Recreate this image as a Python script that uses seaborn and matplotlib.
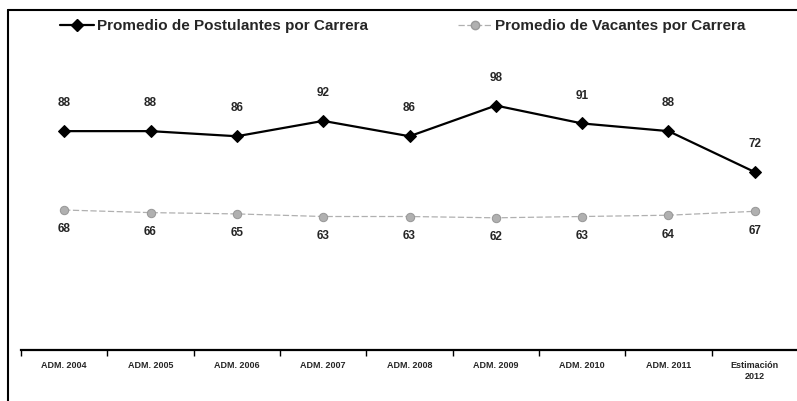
import matplotlib
matplotlib.use("Agg")
import matplotlib.pyplot as plt
import seaborn as sns
import pandas as pd
from matplotlib.lines import Line2D

sns.set_style("white")
plt.rcParams['font.family'] = ['Liberation Sans', 'DejaVu Sans']

# Data
categories = ["ADM. 2004", "ADM. 2005", "ADM. 2006", "ADM. 2007", "ADM. 2008",
              "ADM. 2009", "ADM. 2010", "ADM. 2011", "Estimación\n2012"]
postulantes = [88, 88, 86, 92, 86, 98, 91, 88, 72]
vacantes = [68, 66, 65, 63, 63, 62, 63, 64, 67]

df = pd.DataFrame({
    'pos': range(len(categories)),
    'categoria': categories,
    'postulantes': postulantes,
    'vacantes': vacantes,
})

fig = plt.figure(figsize=(7.97, 4.01), dpi=100)
ax = fig.add_axes([21 / 797, 51 / 401, 777 / 797, 310 / 401])
ax2 = ax.twinx()

grey = '#b0b0b0'

# Postulantes (black, diamonds)
sns.lineplot(data=df, x='pos', y='postulantes', ax=ax, color='black', linewidth=1.6,
             marker='D', markersize=6, markeredgecolor='black', legend=False)
# Vacantes (grey, thin broken line)
sns.lineplot(data=df, x='pos', y='vacantes', ax=ax2, color=grey, linewidth=0.9,
             linestyle=(0, (5, 2)), marker='o', markersize=6,
             markerfacecolor=grey, markeredgecolor='#999999', legend=False)

ax.set_ylim(2.5, 123.6)
ax2.set_ylim(-39.7, 198.8)
ax.set_xlim(-0.5, len(categories) - 0.5)

# data labels
for i, v in enumerate(postulantes):
    ax.annotate(str(v), (i, v), xytext=(0, 20), textcoords='offset points',
                ha='center', va='center', fontsize=8.5, fontweight='bold')
for i, v in enumerate(vacantes):
    ax2.annotate(str(v), (i, v), xytext=(0, -14), textcoords='offset points',
                 ha='center', va='center', fontsize=8.5, fontweight='bold')

# axes styling
for a in (ax, ax2):
    a.set_ylabel('')
    a.set_xlabel('')
    a.set_yticks([])
    for side in ('top', 'right', 'left'):
        a.spines[side].set_visible(False)
ax2.spines['bottom'].set_visible(False)
ax.spines['bottom'].set_color('black')
ax.spines['bottom'].set_linewidth(1.6)

ax.set_xticks(range(len(categories)))
ax.set_xticklabels(categories, fontsize=6.5, fontweight='bold')
ax.tick_params(axis='x', which='major', bottom=True, length=0, pad=8)
ax.set_xticks([i + 0.5 for i in range(-1, len(categories))], minor=True)
ax.tick_params(axis='x', which='minor', bottom=True, length=4, width=1,
               color='black', direction='out')

# legend (two entries placed like the reference)
h_post = Line2D([0], [0], color='black', linewidth=1.6, marker='D', markersize=6)
h_vac = Line2D([0], [0], color=grey, linewidth=0.9, linestyle=(0, (5, 2)), marker='o',
               markersize=6, markerfacecolor=grey, markeredgecolor='#999999')
leg_y = 1 - 26 / 401
for h, txt, x0 in [(h_post, "Promedio de Postulantes por Carrera", 60 / 797),
                   (h_vac, "Promedio de Vacantes por Carrera", 458 / 797)]:
    fig.legend([h], [txt], loc='center left', bbox_to_anchor=(x0, leg_y), frameon=False,
               prop={'size': 11, 'weight': 'bold'}, handlelength=2.2, handletextpad=0.2,
               borderpad=0, borderaxespad=0)

# outer frame (top and left border of the picture)
fig.add_artist(Line2D([8 / 797, 8 / 797], [0, 1 - 10 / 401], color='black', linewidth=1.5,
                      transform=fig.transFigure))
fig.add_artist(Line2D([8 / 797, 1], [1 - 10 / 401, 1 - 10 / 401], color='black', linewidth=1.5,
                      transform=fig.transFigure))

fig.savefig('out.png', dpi=100)
plt.close(fig)
